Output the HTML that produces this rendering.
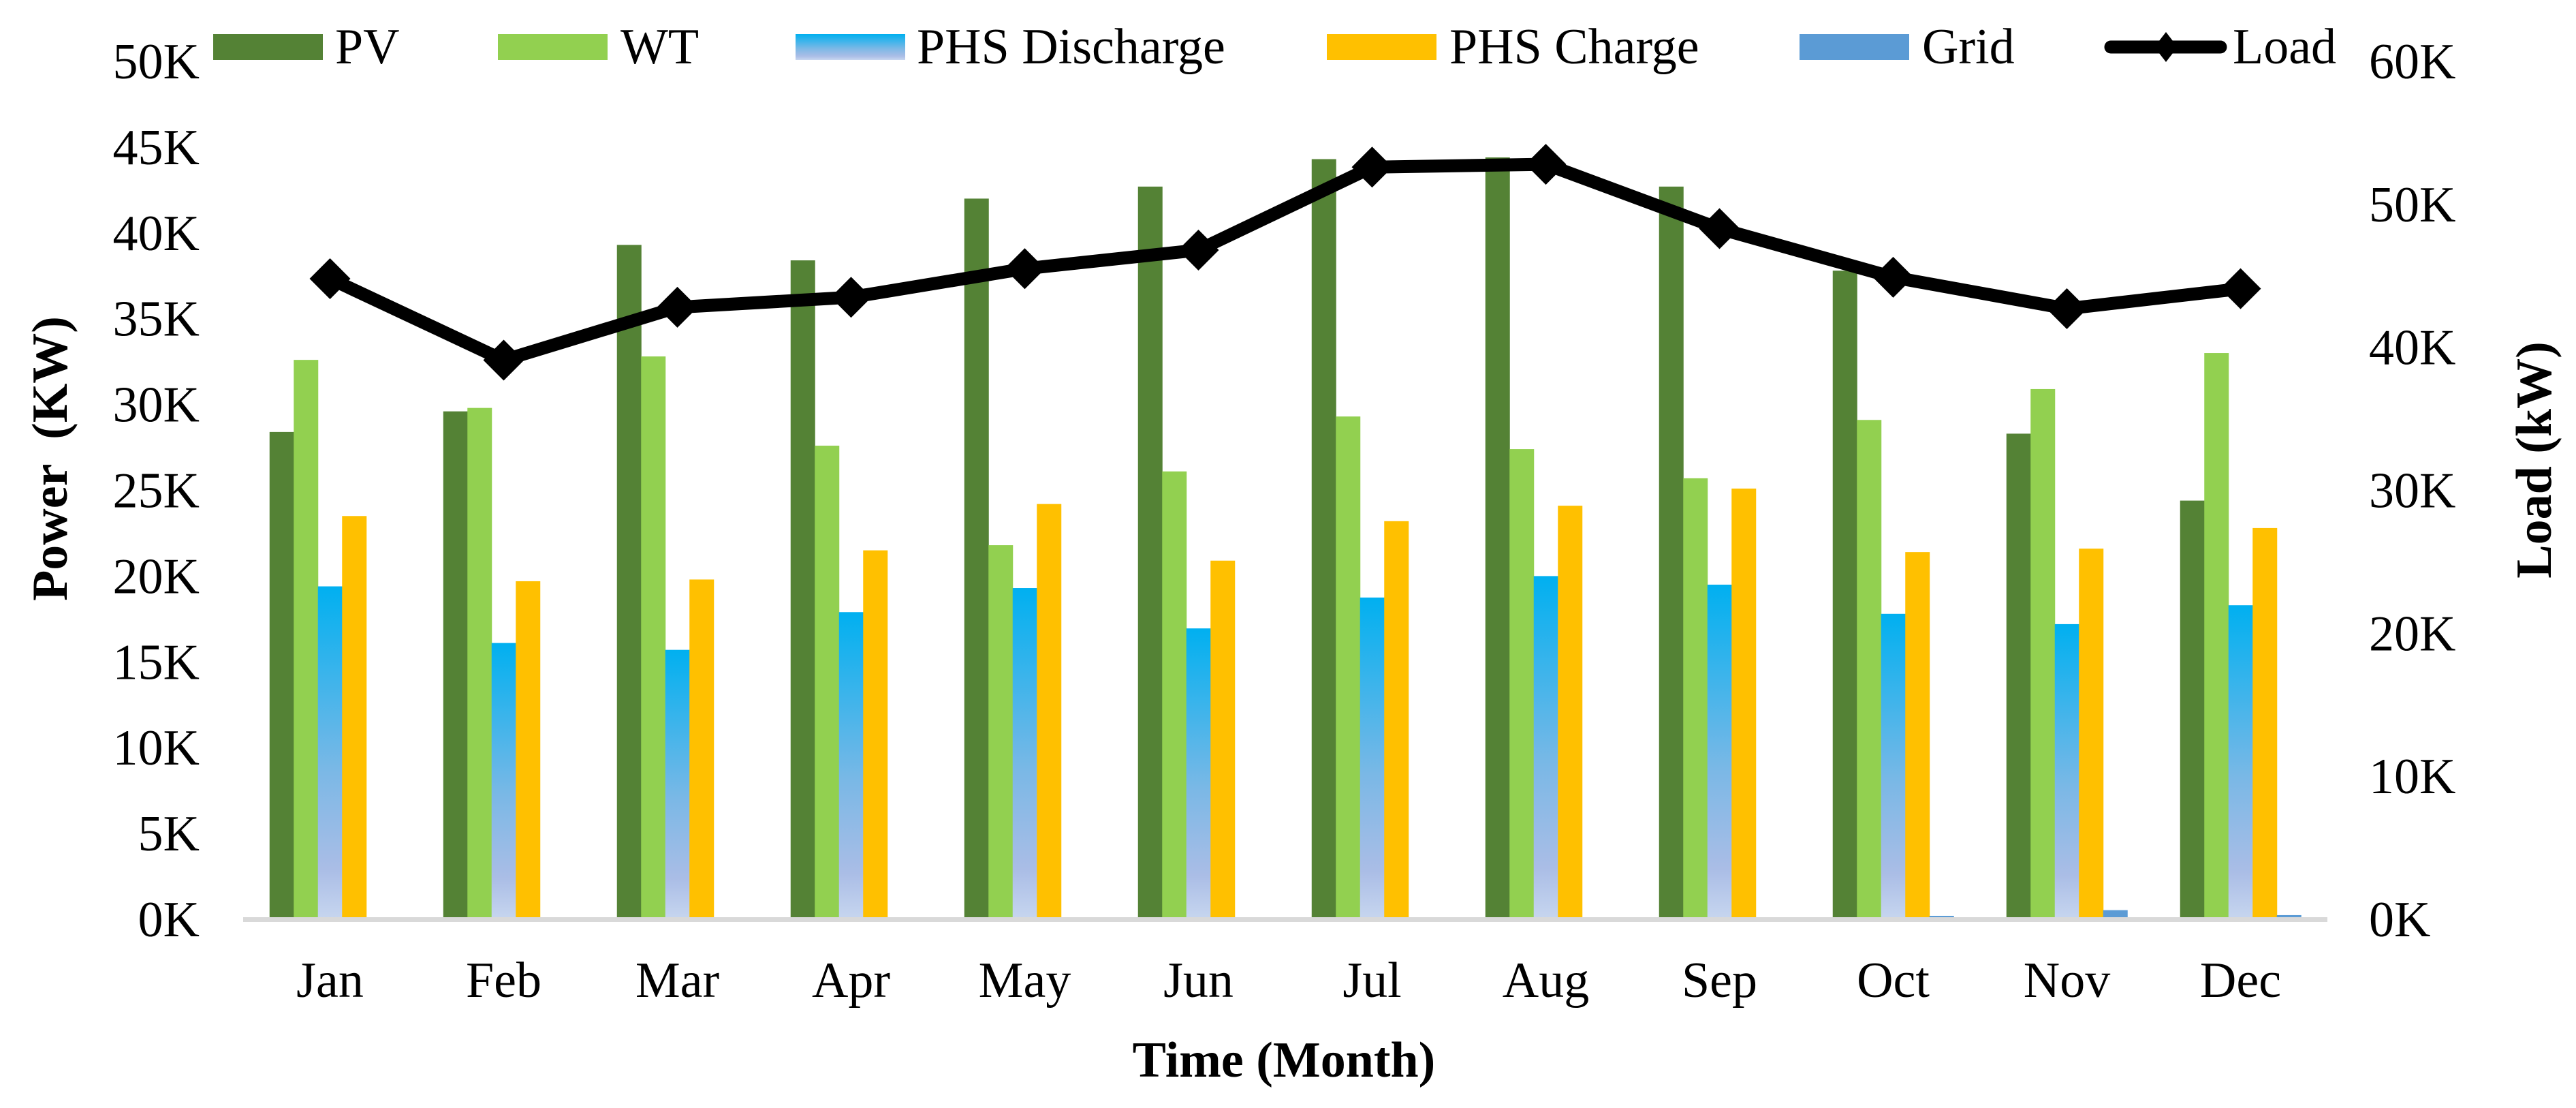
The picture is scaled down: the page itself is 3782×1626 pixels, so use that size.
<!DOCTYPE html>
<html><head><meta charset="utf-8"><style>
html,body{margin:0;padding:0;background:#fff;}
svg{display:block;font-family:"Liberation Serif","Times New Roman",serif;}
</style></head><body>
<svg id="chart" width="3782" height="1626" viewBox="0 0 3782 1626" xmlns="http://www.w3.org/2000/svg">
<defs>
<linearGradient id="disGrad" x1="0" y1="0" x2="0" y2="1">
<stop offset="0" stop-color="#00b0f0"/>
<stop offset="0.55" stop-color="#7ab8e6"/>
<stop offset="0.85" stop-color="#aabde6"/>
<stop offset="1" stop-color="#c7d6ef"/>
</linearGradient>
</defs>
<g id="bars"></g>
<rect x="357" y="1346" width="3060" height="7" fill="#d9d9d9"/>
<g id="line"></g>
<g id="ticks" font-size="74"></g>
<text x="1885" y="1580" font-size="74" font-weight="bold" text-anchor="middle">Time (Month)</text>
<text transform="translate(98,673) rotate(-90)" font-size="74" font-weight="bold" text-anchor="middle" xml:space="preserve">Power  (KW)</text>
<text transform="translate(3745,675) rotate(-90)" font-size="74" font-weight="bold" text-anchor="middle">Load (kW)</text>
<g font-size="74">
<g><rect x="313" y="50" width="161" height="38" fill="#548235"/><text x="492" y="93">PV</text></g>
<g><rect x="731" y="50" width="161" height="38" fill="#92d050"/><text x="911" y="93">WT</text></g>
<g><rect x="1168" y="50" width="161" height="38" fill="url(#disGrad)"/><text x="1346" y="93">PHS Discharge</text></g>
<g><rect x="1948" y="50" width="161" height="38" fill="#ffc000"/><text x="2128" y="93">PHS Charge</text></g>
<g><rect x="2642" y="50" width="161" height="38" fill="#5b9bd5"/><text x="2822" y="93">Grid</text></g>
<g><line x1="3099" y1="69" x2="3260" y2="69" stroke="#000" stroke-width="19" stroke-linecap="round"/><polygon points="3180,47 3197,69 3180,91 3163,69" fill="#000"/><text x="3278" y="93">Load</text></g>
</g>
</svg>
<script>
const months = ["Jan","Feb","Mar","Apr","May","Jun","Jul","Aug","Sep","Oct","Nov","Dec"];
const pv = [28.4,29.6,39.3,38.4,42.0,42.7,44.3,44.4,42.7,37.8,28.3,24.4];
const wt = [32.6,29.8,32.8,27.6,21.8,26.1,29.3,27.4,25.7,29.1,30.9,33.0];
const phsDischarge = [19.4,16.1,15.7,17.9,19.3,16.95,18.75,20.0,19.5,17.8,17.2,18.3];
const phsCharge = [23.5,19.7,19.8,21.5,24.2,20.9,23.2,24.1,25.1,21.4,21.6,22.8];
const grid = [0,0,0,0,0,0,0,0.05,0,0.2,0.53,0.24];
const load = [44.8,39.1,42.8,43.5,45.5,46.8,52.6,52.8,48.3,44.9,42.7,44.1];
const leftTicks = [0,5,10,15,20,25,30,35,40,45,50];
const rightTicks = [0,10,20,30,40,50,60];

const NS = "http://www.w3.org/2000/svg";
const plotLeft = 357, catW = 255, y0 = 1349, yTop = 90;
const yL = v => y0 - (v/50)*(y0-yTop);
const yR = v => y0 - (v/60)*(y0-yTop);
const xc = i => plotLeft + catW*(i+0.5);
const barW = 35.5;

const barsG = document.getElementById('bars');
const series = [
  {d:pv, fill:"#548235", n:"pv"},
  {d:wt, fill:"#92d050", n:"wt"},
  {d:phsDischarge, fill:"url(#disGrad)", n:"phs-discharge"},
  {d:phsCharge, fill:"#ffc000", n:"phs-charge"},
  {d:grid, fill:"#5b9bd5", n:"grid"}
];
series.forEach((s,k)=>{
  s.d.forEach((v,i)=>{
    const r = document.createElementNS(NS,'rect');
    const x = xc(i) - 2.5*barW + k*barW;
    r.setAttribute('x', x);
    r.setAttribute('y', yL(v));
    r.setAttribute('width', barW+0.5);
    r.setAttribute('height', Math.max(0, y0 - yL(v)));
    r.setAttribute('fill', s.fill);
    
    
    barsG.appendChild(r);
  });
});

const lineG = document.getElementById('line');
const pl = document.createElementNS(NS,'polyline');
pl.setAttribute('points', load.map((v,i)=>xc(i)+','+yR(v)).join(' '));
pl.setAttribute('fill','none');
pl.setAttribute('stroke','#000');
pl.setAttribute('stroke-width','19');
pl.setAttribute('stroke-linejoin','miter');


lineG.appendChild(pl);
load.forEach((v,i)=>{
  const x = xc(i), y = yR(v);
  const p = document.createElementNS(NS,'polygon');
  p.setAttribute('points', `${x},${y-30} ${x+30},${y} ${x},${y+30} ${x-30},${y}`);
  p.setAttribute('fill','#000');
  
  
  lineG.appendChild(p);
});

const tG = document.getElementById('ticks');
leftTicks.forEach(v=>{
  const t = document.createElementNS(NS,'text');
  t.setAttribute('x', 293);
  t.setAttribute('y', yL(v)+25);
  t.setAttribute('text-anchor','end');
  t.textContent = v + 'K';
  
  
  tG.appendChild(t);
});
rightTicks.forEach(v=>{
  const t = document.createElementNS(NS,'text');
  t.setAttribute('x', 3478);
  t.setAttribute('y', yR(v)+25);
  t.textContent = v + 'K';
  
  
  tG.appendChild(t);
});
months.forEach((m,i)=>{
  const t = document.createElementNS(NS,'text');
  t.setAttribute('x', xc(i));
  t.setAttribute('y', 1463);
  t.setAttribute('text-anchor','middle');
  t.textContent = m;
  
  
  tG.appendChild(t);
});
</script>
</body></html>
